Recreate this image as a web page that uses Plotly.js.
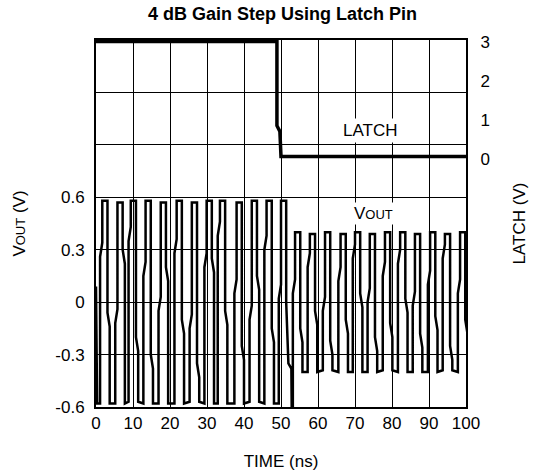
<!DOCTYPE html>
<html>
<head>
<meta charset="utf-8">
<script src="https://cdn.plot.ly/plotly-3.0.1.min.js"></script>
<style>html,body{margin:0;padding:0;background:#fff;}#chart{width:533px;height:474px;}</style>
</head>
<body>
<div id="chart"></div>
<script>
// ---- data ----
const xTickVals = [0, 10, 20, 30, 40, 50, 60, 70, 80, 90, 100];
const voutTickVals = [-0.6, -0.3, 0, 0.3, 0.6, 0.9, 1.2, 1.5];
const voutTickText = ['-0.6', '-0.3', '0', '0.3', '0.6', '', '', ''];
const latchTickVals = [0, 1, 2, 3];

// LATCH trace (ns, V)
const latchTime = [0, 48.9, 48.9, 49.7, 50.0, 100];
const latchVolt = [3.0, 3.0, 0.85, 0.7, 0.06, 0.06];

// VOUT: start of trace
const startTime = [0, 0.3];
const startVolt = [0.09, -0.58];
// VOUT before gain step: per cycle top time, high, low, rise jog level, fall jog level
const preTop  = [2.6, 6.7, 10.3, 14.3, 18.4, 22.7, 26.8, 30.8, 34.4, 38.9, 43.0, 47.0, 50.9];
const preHigh = [0.58, 0.57, 0.58, 0.58, 0.57, 0.58, 0.57, 0.58, 0.58, 0.57, 0.58, 0.58, 0.58];
const preLow  = [-0.58, -0.58, -0.57, -0.58, -0.58, -0.58, -0.57, -0.58, -0.58, -0.58, -0.57, -0.58, -0.58];
const preRise = [0.26, -0.12, 0.35, 0.15, -0.05, 0.28, -0.15, 0.20, 0.38, 0.05, -0.10, 0.30, 0.02];
const preFall = [-0.06, 0.30, -0.20, -0.30, 0.20, -0.10, -0.35, 0.25, -0.05, -0.25, 0.15, -0.15, 0.0];
// VOUT transition at the gain step
const stepTime = [51.4, 51.4, 52.0, 52.8, 52.9, 53.2];
const stepVolt = [0.58, 0.0, -0.35, -0.38, -0.62, -0.62];
// VOUT after gain step
const postTop  = [54.7, 58.7, 62.8, 67.0, 70.9, 74.9, 79.0, 83.1, 87.1, 91.2, 95.2, 99.3];
const postHigh = [0.40, 0.39, 0.40, 0.39, 0.40, 0.39, 0.40, 0.40, 0.39, 0.40, 0.39, 0.40];
const postLow  = [-0.40, -0.40, -0.39, -0.40, -0.40, -0.40, -0.39, -0.40, -0.40, -0.40, -0.39, -0.40];
const postRise = [0.05, 0.20, -0.05, 0.12, 0.25, 0.0, 0.15, 0.22, -0.02, 0.10, 0.25, 0.05];
const postFall = [-0.15, -0.05, -0.22, -0.10, 0.05, -0.20, -0.12, 0.02, -0.18, -0.08, -0.25, -0.10];

// ---- build the VOUT polyline from the per-cycle readings ----
const vt = [], vv = [];
function push(t, v) { vt.push(t); vv.push(v); }
startTime.forEach((t, i) => push(t, startVolt[i]));
function addCycle(T, H, L, R, F, withFall) {
  push(T - 1.5, L); push(T - 1.5, R); push(T - 0.9, R + 0.08); push(T - 0.9, H);
  push(T + 0.5, H);
  if (withFall) { push(T + 0.5, F); push(T + 1.1, F - 0.08); push(T + 1.1, L); }
}
preTop.forEach((T, i) => addCycle(T, preHigh[i], preLow[i], preRise[i], preFall[i], i < preTop.length - 1));
stepTime.forEach((t, i) => push(t, stepVolt[i]));
postTop.forEach((T, i) => addCycle(T, postHigh[i], postLow[i], postRise[i], postFall[i], true));

const FONT = 'Liberation Sans, Arial, Helvetica, sans-serif';
const TF = 17;

const traces = [
  { x: vt, y: vv, type: 'scatter', mode: 'lines', line: { color: '#000', width: 2.5 }, yaxis: 'y', hoverinfo: 'skip' },
  { x: latchTime, y: latchVolt, type: 'scatter', mode: 'lines', line: { color: '#000', width: 3.5 }, yaxis: 'y2', hoverinfo: 'skip' }
];

const layout = {
  width: 533, height: 474,
  margin: { l: 96, r: 67, t: 40, b: 67 },
  paper_bgcolor: '#fff', plot_bgcolor: '#fff',
  showlegend: false,
  font: { family: FONT, color: '#000', size: TF },
  title: { text: '<b>4 dB Gain Step Using Latch Pin</b>', font: { family: FONT, size: 18, color: '#000' },
           x: 0.53, xref: 'container', xanchor: 'center', y: 0.972, yref: 'container', yanchor: 'middle' },
  xaxis: {
    range: [0, 100], tickmode: 'array', tickvals: xTickVals,
    showgrid: true, gridcolor: '#000', gridwidth: 1, zeroline: false,
    showline: true, linecolor: '#000', linewidth: 2, mirror: true,
    ticks: '', 
    tickfont: { family: FONT, size: TF, color: '#000' },
    title: { text: 'TIME (ns)', font: { family: FONT, size: TF, color: '#000' }, standoff: 23 }
  },
  yaxis: {
    range: [-0.6, 1.5], tickmode: 'array', tickvals: voutTickVals, ticktext: voutTickText,
    showgrid: true, gridcolor: '#000', gridwidth: 1, zeroline: false,
    showline: true, linecolor: '#000', linewidth: 2, mirror: true,
    ticks: 'outside', ticklen: 6, tickcolor: 'rgba(0,0,0,0)',
    tickfont: { family: FONT, size: TF, color: '#000' },
    title: { text: 'V<span style="font-size:13px">OUT</span> (V)', font: { family: FONT, size: TF, color: '#000' }, standoff: 25 }
  },
  yaxis2: {
    overlaying: 'y', side: 'right', range: [-6.34, 3.04],
    tickmode: 'array', tickvals: latchTickVals,
    showgrid: false, zeroline: false, showline: false,
    ticks: 'outside', ticklen: 10, tickcolor: 'rgba(0,0,0,0)',
    tickfont: { family: FONT, size: TF, color: '#000' },
    title: { text: 'LATCH (V)', font: { family: FONT, size: TF, color: '#000' }, standoff: 24 }
  },
  annotations: [
    { text: 'LATCH', x: 74, y: 0.72, xref: 'x', yref: 'y2', showarrow: false,
      font: { family: FONT, size: TF, color: '#000' }, bgcolor: '#fff', borderpad: 2 },
    { text: 'V<span style="font-size:13px">OUT</span>', x: 74.9, y: 0.51, xref: 'x', yref: 'y', showarrow: false,
      font: { family: FONT, size: TF, color: '#000' }, bgcolor: '#fff', borderpad: 1 }
  ]
};

Plotly.newPlot('chart', traces, layout, { staticPlot: true, displayModeBar: false });
</script>
</body>
</html>
